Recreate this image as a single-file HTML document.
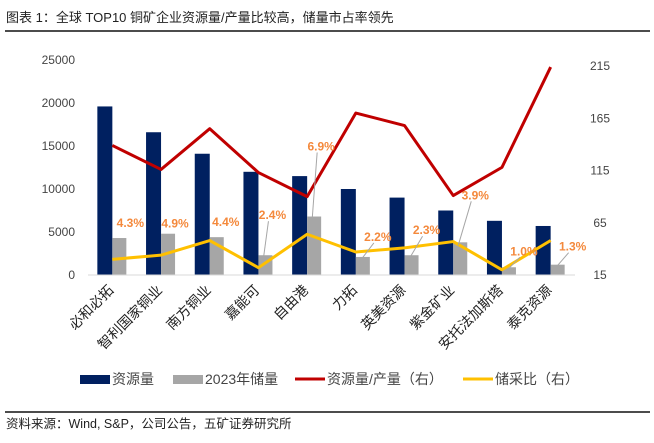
<!DOCTYPE html>
<html><head><meta charset="utf-8"><style>
body{margin:0;background:#fff;}
svg{display:block;font-family:"Liberation Sans","Noto Sans CJK SC",sans-serif;}
</style></head><body>
<svg id="c" width="654" height="443" viewBox="0 0 654 443">
<text x="6" y="22" font-size="13" fill="#222">图表 1：全球 TOP10 铜矿企业资源量/产量比较高，储量市占率领先</text>
<line x1="5" y1="31" x2="650" y2="31" stroke="#111" stroke-width="1.5"/>
<line x1="5" y1="412" x2="650" y2="412" stroke="#111" stroke-width="1.5"/>
<text x="6" y="428" font-size="12.5" fill="#222">资料来源：Wind, S&amp;P，公司公告，五矿证券研究所</text>
<g id="plot"></g>
</svg>
<script>
const categories=["必和必拓","智利国家铜业","南方铜业","嘉能可","自由港","力拓","英美资源","紫金矿业","安托法加斯塔","泰克资源"];
const resources=[19600,16600,14100,12000,11500,10000,9000,7500,6300,5700];
const reserves2023=[4300,4800,4400,2300,6800,2100,2300,3800,900,1200];
const resProdRatio=[139,116,155,113,90,170,158,91,118,214];
const reserveRatio=[30,34,48,22,54,37,41,47,20,48];
const shareLabels=["4.3%","4.9%","4.4%","2.4%","6.9%","2.2%","2.3%","3.9%","1.0%","1.3%"];
const leftTicks=[0,5000,10000,15000,20000,25000];
const rightTicks=[15,65,115,165,215];
const labelOffsets=[[18,-11,0],[14,-6,0],[16,-11,0],[14,-36,1],[14,-66,1],[22,-16,1],[22,-21,1],[22,-43,1],[22,-12,1],[22,-14,1]];

const NS="http://www.w3.org/2000/svg";
const g=document.getElementById('plot');
const X0=88,X1=575,Y0=275,YT=60;
const step=(X1-X0)/categories.length;
const xc=i=>X0+step*(i+0.5);
const yL=v=>Y0-(v/25000)*(Y0-YT);
const yR=v=>Y0-((v-15)/200)*(Y0-66);
function el(t,a,p){const e=document.createElementNS(NS,t);for(const k in a)e.setAttribute(k,a[k]);(p||g).appendChild(e);return e;}

leftTicks.forEach(v=>{const t=el('text',{x:75,y:yL(v)+4,'font-size':12,fill:'#444','text-anchor':'end'});t.textContent=v;

});
rightTicks.forEach(v=>{const t=el('text',{x:600,y:yR(v)+4,'font-size':12,fill:'#444','text-anchor':'middle'});t.textContent=v;

});

categories.forEach((c,i)=>{
 const b=el('rect',{x:xc(i)-15,y:yL(resources[i]),width:15,height:Y0-yL(resources[i]),fill:'#002060'});
 
 
 const r=el('rect',{x:xc(i),y:yL(reserves2023[i]),width:14,height:Y0-yL(reserves2023[i]),fill:'#a6a6a6'});
 
 
 const t=el('text',{'font-size':14,fill:'#222','text-anchor':'end',transform:`translate(${xc(i)+2},${Y0+16}) rotate(-45)`});
 t.textContent=c;
 
 
});
const ax=el('line',{x1:X0,y1:Y0,x2:X1,y2:Y0,stroke:'#d9d9d9','stroke-width':1});



const pr=el('polyline',{points:resProdRatio.map((v,i)=>xc(i)+','+yR(v)).join(' '),fill:'none',stroke:'#c00000','stroke-width':3,'stroke-linejoin':'round'});


const py=el('polyline',{points:reserveRatio.map((v,i)=>xc(i)+','+yR(v)).join(' '),fill:'none',stroke:'#ffc000','stroke-width':3,'stroke-linejoin':'round'});



shareLabels.forEach((s,i)=>{
 const [dx,dy,lead]=labelOffsets[i];
 const bx=xc(i)+7, by=yL(reserves2023[i]);
 const lx=bx+dx-7, ly=by+dy;
 if(lead){const l=el('line',{x1:bx-2,y1:by+3,x2:lx-4,y2:ly+2,stroke:'#a6a6a6','stroke-width':1});
  
  }
 const t=el('text',{x:lx,y:ly,'font-size':12,'font-weight':'bold',fill:'#f4893c','text-anchor':'middle'});
 t.textContent=s;
 
 
});

const legend=[['rect','#002060','资源量',80],['rect','#a6a6a6','2023年储量',173],['line','#c00000','资源量/产量（右）',295],['line','#ffc000','储采比（右）',463]];
legend.forEach(([k,col,txt,x])=>{
 const lg=el('g',{});
 
 
 if(k==='rect')el('rect',{x:x,y:375,width:30,height:9,fill:col},lg);
 else el('line',{x1:x,y1:379,x2:x+30,y2:379,stroke:col,'stroke-width':3},lg);
 const t=el('text',{x:x+32,y:384,'font-size':14,fill:'#444'},lg);t.textContent=txt;
});
</script>
</body></html>
